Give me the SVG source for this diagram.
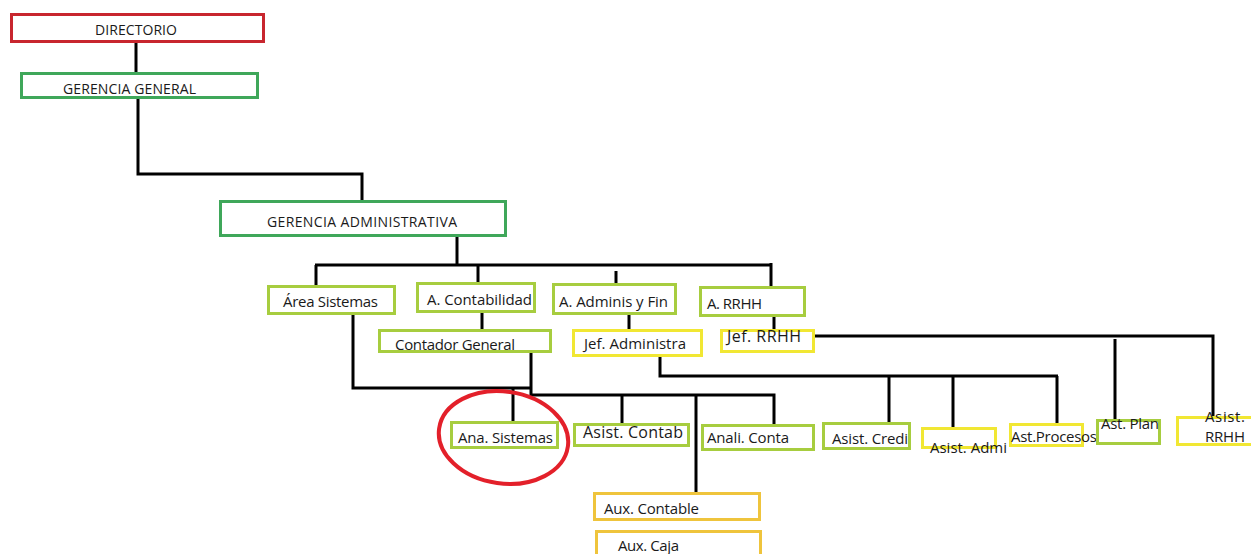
<svg xmlns="http://www.w3.org/2000/svg" width="1251" height="554" viewBox="0 0 1251 554">
  <style>
    .box { fill: #ffffff; stroke-width: 3; }
    .red { stroke: #c8262e; }
    .green { stroke: #3fa75a; }
    .lime { stroke: #a7cd3f; }
    .yellow { stroke: #f1e733; }
    .gold { stroke: #efc43c; }
    text { font-family: "Open Sans", "Liberation Sans", Arial, sans-serif; fill: #1a1a1a; font-size: 15px; }
    text.caps { font-size: 14px; }
    text.big { font-size: 16px; }
    .links path { fill: none; stroke: #000000; stroke-width: 3; }
  </style>

  <!-- connectors -->
  <g id="connectors" class="links">
    <path d="M136 43 V72"/>
    <path d="M138 99 V174 H362 V200"/>
    <path d="M457 237 V265"/>
    <path d="M315 265 H771"/>
    <path d="M316 265 V286"/>
    <path d="M478 265 V283"/>
    <path d="M771 263 V287"/>
    <path d="M616 271 V284"/>
    <path d="M482 313 V330"/>
    <path d="M629 315 V330"/>
    <path d="M774 312 V330"/>
    <path d="M815 336 H1213 V417"/>
    <path d="M1115 339 V420"/>
    <path d="M353 315 V388 H531"/>
    <path d="M531 353 V395 H774 V424"/>
    <path d="M513 388 V422"/>
    <path d="M622 395 V423"/>
    <path d="M696 395 V492"/>
    <path d="M660 357 V376 H1058"/>
    <path d="M889 376 V422"/>
    <path d="M953 376 V427"/>
    <path d="M1057 376 V423"/>
  </g>

  <g id="directorio">
    <rect class="box red" x="11.5" y="14.5" width="252" height="27"/>
    <text class="caps" x="95" y="35" textLength="82">DIRECTORIO</text>
  </g>
  <g id="gerencia-general">
    <rect class="box green" x="21.5" y="73.5" width="236" height="24"/>
    <text class="caps" x="63" y="94" textLength="133">GERENCIA GENERAL</text>
  </g>
  <g id="gerencia-administrativa">
    <rect class="box green" x="220.5" y="201.5" width="285" height="34"/>
    <text class="caps" x="267" y="227" textLength="190">GERENCIA ADMINISTRATIVA</text>
  </g>

  <g id="area-sistemas">
    <rect class="box lime" x="268.5" y="286.5" width="126" height="27"/>
    <text x="283" y="307" textLength="95">Área Sistemas</text>
  </g>
  <g id="a-contabilidad">
    <rect class="box lime" x="417.5" y="283.5" width="117" height="28"/>
    <text x="427" y="305" textLength="105">A. Contabilidad</text>
  </g>
  <g id="a-adminis-fin">
    <rect class="box lime" x="553.5" y="284.5" width="122" height="29"/>
    <text x="559" y="307" textLength="109">A. Adminis y Fin</text>
  </g>
  <g id="a-rrhh">
    <rect class="box lime" x="700.5" y="287.5" width="104" height="28"/>
    <text x="707" y="309" textLength="55">A. RRHH</text>
  </g>

  <g id="contador-general">
    <rect class="box lime" x="379.5" y="330.5" width="171" height="21"/>
    <text x="395" y="350" textLength="120">Contador General</text>
  </g>
  <g id="jef-administra">
    <rect class="box yellow" x="573.5" y="330.5" width="128" height="25"/>
    <text x="584" y="349" textLength="102">Jef. Administra</text>
  </g>
  <g id="jef-rrhh">
    <rect class="box yellow" x="721.5" y="330.5" width="92" height="21"/>
    <text class="big" x="727" y="342" textLength="74">Jef. RRHH</text>
  </g>

  <g id="ana-sistemas">
    <rect class="box lime" x="451.5" y="422.5" width="106" height="25"/>
    <text x="458" y="443" textLength="95">Ana. Sistemas</text>
  </g>
  <g id="asist-contab">
    <rect class="box lime" x="574.5" y="424.5" width="114" height="21"/>
    <text class="big" x="583" y="438" textLength="100">Asist. Contab</text>
  </g>
  <g id="anali-conta">
    <rect class="box lime" x="702.5" y="425.5" width="111" height="24"/>
    <text x="707" y="443" textLength="82">Anali. Conta</text>
  </g>
  <g id="asist-credi">
    <rect class="box lime" x="823.5" y="423.5" width="86" height="25"/>
    <text x="832" y="444" textLength="76">Asist. Credi</text>
  </g>
  <g id="asist-admi">
    <rect class="box yellow" x="922.5" y="428.5" width="73" height="19"/>
    <text x="930" y="453" textLength="77">Asist. Admi</text>
  </g>
  <g id="ast-procesos">
    <rect class="box yellow" x="1010.5" y="424.5" width="72" height="21"/>
    <text x="1011" y="442" textLength="86">Ast.Procesos</text>
  </g>
  <g id="ast-plan">
    <rect class="box lime" x="1097.5" y="420.5" width="62" height="23"/>
    <text x="1101" y="429" textLength="58">Ast. Plan</text>
  </g>
  <g id="asist-rrhh">
    <rect class="box yellow" x="1177.5" y="417.5" width="80" height="27"/>
    <text x="1205" y="422" textLength="40">Asist.</text>
    <text x="1205" y="442" textLength="40">RRHH</text>
  </g>

  <g id="aux-contable">
    <rect class="box gold" x="594.5" y="493.5" width="165" height="26"/>
    <text x="604" y="514" textLength="95">Aux. Contable</text>
  </g>
  <g id="aux-caja">
    <rect class="box gold" x="596.5" y="531.5" width="164" height="26"/>
    <text x="618" y="551" textLength="61">Aux. Caja</text>
  </g>

  <!-- highlight ring around Ana. Sistemas -->
  <ellipse id="highlight" cx="503.5" cy="437.5" rx="65" ry="46" transform="rotate(8 503.5 437.5)" fill="none" stroke="#e3202a" stroke-width="4"/>
</svg>
